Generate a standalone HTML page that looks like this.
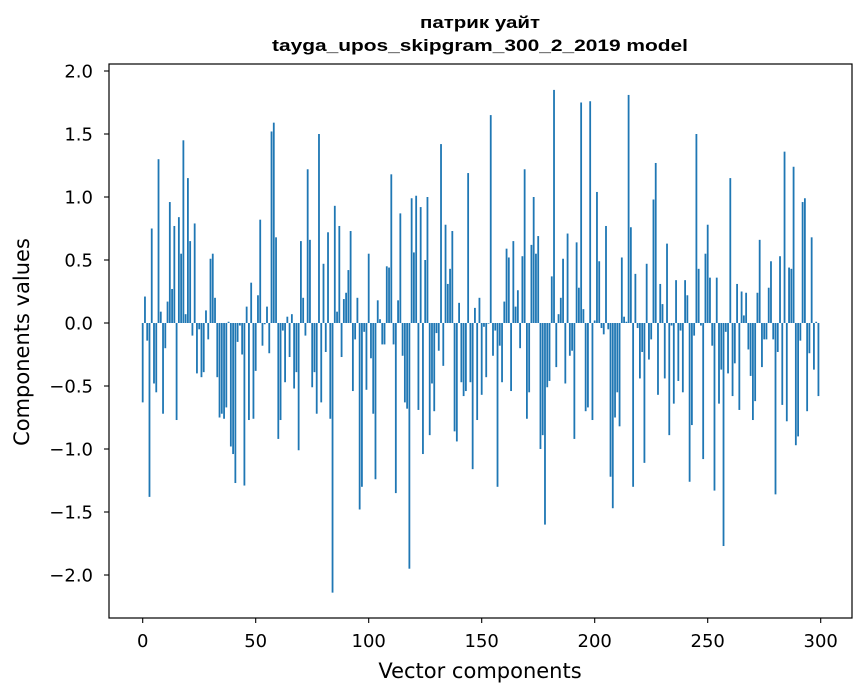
<!DOCTYPE html>
<html><head><meta charset="utf-8"><style>
body{margin:0;background:#fff;}
svg{display:block;font-family:"DejaVu Sans","Liberation Sans",sans-serif;}
</style></head><body>
<svg id="chart" width="867" height="696" viewBox="0 0 867 696" xmlns="http://www.w3.org/2000/svg">
<rect width="867" height="696" fill="#fff"/>
<text x="480" y="28" text-anchor="middle" font-size="16.5" font-weight="bold" font-family="'Liberation Sans',sans-serif" textLength="120" lengthAdjust="spacingAndGlyphs">патрик уайт</text>
<text x="480" y="51" text-anchor="middle" font-size="16.5" font-weight="bold" font-family="'Liberation Sans',sans-serif" textLength="416" lengthAdjust="spacingAndGlyphs">tayga_upos_skipgram_300_2_2019 model</text>
<g id="bars"></g>
<g id="xticks"></g>
<g id="yticks"></g>
<rect x="109" y="64" width="743" height="554" fill="none" stroke="#000" stroke-width="1.2"/>
<text x="480" y="678" text-anchor="middle" font-size="21">Vector components</text>
<text transform="translate(29,342) rotate(-90)" text-anchor="middle" font-size="21">Components values</text>
</svg>
<script>
const values = [-0.63,0.21,-0.14,-1.38,0.75,-0.48,-0.55,1.30,0.09,-0.72,-0.2,0.17,0.96,0.27,0.77,-0.77,0.84,0.55,1.45,0.07,
1.15,0.65,-0.1,0.79,-0.4,-0.05,-0.43,-0.39,0.1,-0.13,0.51,0.55,0.2,-0.43,-0.75,-0.72,-0.76,-0.67,0.01,-0.98,
-1.04,-1.27,-0.15,-0.02,-0.25,-1.29,0.13,-0.77,0.32,-0.76,-0.38,0.22,0.82,-0.18,-0.01,0.13,-0.24,1.52,1.59,0.68,
-0.92,-0.77,-0.06,-0.47,0.05,-0.27,0.07,-0.52,-0.39,-1.01,0.65,0.2,-0.1,1.22,0.66,-0.51,-0.39,-0.72,1.5,-0.63,
0.47,-0.23,0.72,-0.76,-2.14,0.93,0.09,0.77,-0.27,0.19,0.24,0.42,0.73,-0.54,-0.13,0.2,-1.48,-1.3,-0.07,-0.53,
0.55,-0.28,-0.72,-1.24,0.18,0.03,-0.17,-0.17,0.45,0.44,1.18,-0.17,-1.35,0.18,0.87,-0.26,-0.63,-0.68,-1.95,0.99,
0.56,1.01,-0.69,0.92,-1.04,0.5,1.0,-0.89,-0.48,-0.7,-0.08,-0.22,1.42,-0.34,0.78,0.31,0.43,0.73,-0.86,-0.94,
0.16,-0.47,-0.58,-0.54,1.19,-0.47,-1.16,0.12,-0.77,0.2,-0.57,-0.03,-0.43,-0.005,1.65,-0.26,-0.06,-1.3,-0.18,-0.47,
0.17,0.59,0.52,-0.54,0.65,0.13,0.26,-0.2,0.53,1.22,-0.76,-0.55,0.62,1.0,0.55,0.69,-1.0,-0.89,-1.6,-0.51,
-0.46,0.37,1.85,-0.35,0.07,0.2,0.51,-0.48,0.71,-0.26,-0.22,-0.92,0.64,0.28,1.75,0.11,-0.7,-0.67,1.76,-0.77,
0.02,1.04,0.49,-0.04,-0.09,0.77,-0.05,-1.22,-1.47,-0.75,-0.55,-0.82,0.52,0.05,0.01,1.81,0.76,-1.3,0.39,-0.04,
-0.44,-0.23,-1.11,0.47,-0.29,-0.13,0.98,1.27,-0.57,0.31,0.15,-0.44,0.63,-0.89,-0.02,-0.64,0.34,-0.46,-0.06,-0.55,
0.34,0.22,-1.26,-0.81,-0.1,1.5,0.43,-0.02,-1.08,0.55,0.78,0.36,-0.18,-1.33,0.36,-0.64,-0.37,-1.77,-0.07,-0.4,
1.15,-0.58,-0.32,0.31,-0.69,0.25,0.06,0.24,-0.21,-0.42,-0.77,-0.62,0.24,0.66,-0.35,-0.13,-0.13,0.28,0.49,-0.13,
-1.36,-0.23,0.53,-0.65,1.36,-0.78,0.44,0.43,1.24,-0.97,-0.9,-0.14,0.96,0.99,-0.7,-0.24,0.68,-0.37,0.01,-0.58];
const xTickValues = [0,50,100,150,200,250,300];
const yTickValues = [-2.0,-1.5,-1.0,-0.5,0.0,0.5,1.0,1.5,2.0];
const yTickLabels = ["\u22122.0","\u22121.5","\u22121.0","\u22120.5","0.0","0.5","1.0","1.5","2.0"];
const NS="http://www.w3.org/2000/svg";
function xs(i){return 142.7+i*2.26;}
function ys(v){return 323-v*126;}
const bars=document.getElementById('bars');
values.forEach(function(v,i){
  const r=document.createElementNS(NS,'rect');
  
  
  const y0=ys(0), y1=ys(v);
  r.setAttribute('x',xs(i)-0.9);
  r.setAttribute('width',1.8);
  r.setAttribute('y',Math.min(y0,y1));
  r.setAttribute('height',Math.max(Math.abs(y1-y0),0.3));
  r.setAttribute('fill','#1f77b4');
  bars.appendChild(r);
});
const xt=document.getElementById('xticks');
xTickValues.forEach(function(t){
  const l=document.createElementNS(NS,'line');
  
  
  l.setAttribute('x1',xs(t));l.setAttribute('x2',xs(t));
  l.setAttribute('y1',618);l.setAttribute('y2',623);
  l.setAttribute('stroke','#000');l.setAttribute('stroke-width','1.1');
  xt.appendChild(l);
  const tx=document.createElementNS(NS,'text');
  
  
  tx.setAttribute('x',xs(t));tx.setAttribute('y',647);
  tx.setAttribute('text-anchor','middle');tx.setAttribute('font-size','18');
  tx.textContent=String(t);
  xt.appendChild(tx);
});
const yt=document.getElementById('yticks');
yTickValues.forEach(function(t,k){
  const l=document.createElementNS(NS,'line');
  
  
  l.setAttribute('x1',104);l.setAttribute('x2',109);
  l.setAttribute('y1',ys(t));l.setAttribute('y2',ys(t));
  l.setAttribute('stroke','#000');l.setAttribute('stroke-width','1.1');
  yt.appendChild(l);
  const tx=document.createElementNS(NS,'text');
  
  
  tx.setAttribute('x',93);tx.setAttribute('y',ys(t)+6.5);
  tx.setAttribute('text-anchor','end');tx.setAttribute('font-size','18');
  tx.textContent=yTickLabels[k];
  yt.appendChild(tx);
});
</script>
</body></html>
